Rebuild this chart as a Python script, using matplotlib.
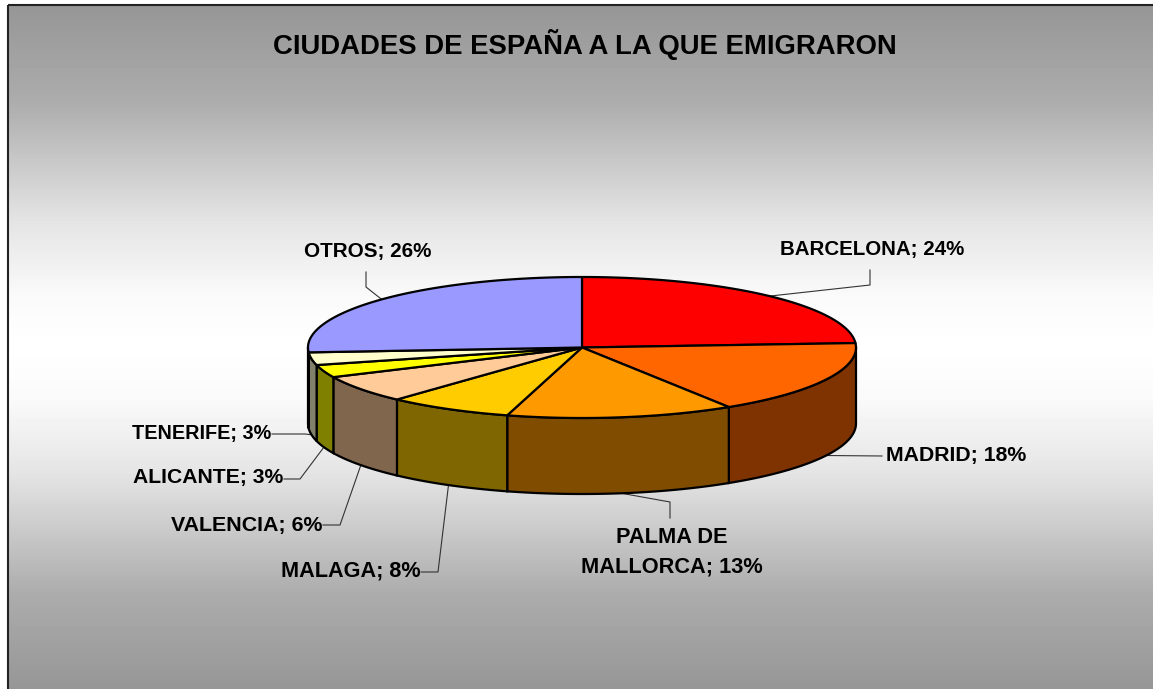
import numpy as np
import matplotlib
matplotlib.use("Agg")
import matplotlib.pyplot as plt
from matplotlib.patches import Polygon

# slice sizes, the labels carry the rounded numbers
cities = ["BARCELONA", "MADRID", "PALMA DE\nMALLORCA", "MALAGA", "VALENCIA", "ALICANTE", "TENERIFE", "OTROS"]
shares = [24.0, 17.0, 13.4, 7.4, 6.3, 2.9, 2.9, 26.1]
percent_labels = [24, 18, 13, 8, 6, 3, 3, 26]
top_colors = ["#FF0000", "#FF6600", "#FF9900", "#FFCC00", "#FFCC99", "#FFFF00", "#FFFFCC", "#9999FF"]
side_colors = ["#800000", "#7F3300", "#804C00", "#806600", "#80664D", "#808000", "#80806B", "#4D4D80"]
title = "CIUDADES DE ESPAÑA A LA QUE EMIGRARON"

# layout in image pixels
cx, cy, rx, ry, depth = 582, 347.5, 274, 70.5, 76
label_pos = [(872, 250), (956, 455), (671.5, 552), (351, 571),
             (247, 525), (208, 478), (202, 433), (367.5, 251)]
label_sizes = [14.8, 15.3, 15.7, 15.6, 15.4, 15.2, 14.3, 14.9]
leader_elbows = [[(870, 285), (870, 270)], [(882, 456)], [(670, 502), (670, 518)], [(438, 572), (421, 572)],
                 [(340, 525), (323, 525)], [(300, 479), (284, 479)], [(305, 434), (272, 434)],
                 [(366, 287), (366, 272)]]

# background stops, distance from the middle against grey level
grad_dist = [0, 0.15, 0.37, 0.72, 1]
grad_grey = [255, 250, 228, 172, 150]

plt.rcParams["font.family"] = ["Liberation Sans", "DejaVu Sans"]


def project(theta_deg, drop=0):
    theta = np.radians(theta_deg)
    return np.column_stack([cx + rx * np.sin(theta), cy - ry * np.cos(theta) + drop])


fig = plt.figure(figsize=(11.53, 6.89), dpi=100)
ax = fig.add_axes([0, 0, 1, 1])
ax.axis("off")

# grey-white-grey background
rows = np.arange(5, 689)
grey = np.interp(np.abs(rows - 347) / 342, grad_dist, grad_grey) / 255
ax.imshow(grey[:, None], cmap="gray", vmin=0, vmax=1, extent=(8, 1153, 689, 5), aspect="auto", zorder=0)
ax.set_xlim(0, 1153)
ax.set_ylim(689, 0)
ax.plot([8, 8], [689, 5], color="#222222", lw=1.5, zorder=1, solid_capstyle="butt")
ax.plot([8, 1153], [5, 5], color="#222222", lw=1.5, zorder=1, solid_capstyle="butt")

edges = np.concatenate([[0], np.cumsum(shares)]) / sum(shares) * 360
outline = 1.6

# walls first, only the front half is visible
for start, end, color in zip(edges[:-1], edges[1:], side_colors):
    a, b = max(start, 90), min(end, 270)
    if a >= b:
        continue
    arc = np.linspace(a, b, 60)
    pts = np.vstack([project(arc), project(arc[::-1], depth)])
    ax.add_patch(Polygon(pts, closed=True, facecolor=color, edgecolor="black", lw=outline, zorder=3))

# top of the pie
for start, end, color in zip(edges[:-1], edges[1:], top_colors):
    arc = np.linspace(start, end, 100)
    pts = np.vstack([[cx, cy], project(arc)])
    ax.add_patch(Polygon(pts, closed=True, facecolor=color, edgecolor="black", lw=outline, zorder=4, joinstyle="round"))

# leader lines start on the rim at the middle of each slice
for i, (start, end) in enumerate(zip(edges[:-1], edges[1:])):
    mid = (start + end) / 2
    drop = depth if 90 < mid < 270 else 0
    first = project(mid, drop)[0]
    xs = [first[0]] + [p[0] for p in leader_elbows[i]]
    ys = [first[1]] + [p[1] for p in leader_elbows[i]]
    ax.plot(xs, ys, color="#333333", lw=0.8, zorder=2)

for city, pct, (x, y), size in zip(cities, percent_labels, label_pos, label_sizes):
    ax.text(x, y, f"{city}; {pct}%", ha="center", va="center", fontsize=size, fontweight="bold",
            color="black", linespacing=1.55, zorder=5)

ax.text(585, 44, title, ha="center", va="center", fontsize=19.8, fontweight="bold", color="black", zorder=5)

fig.savefig("out.png", dpi=100)
